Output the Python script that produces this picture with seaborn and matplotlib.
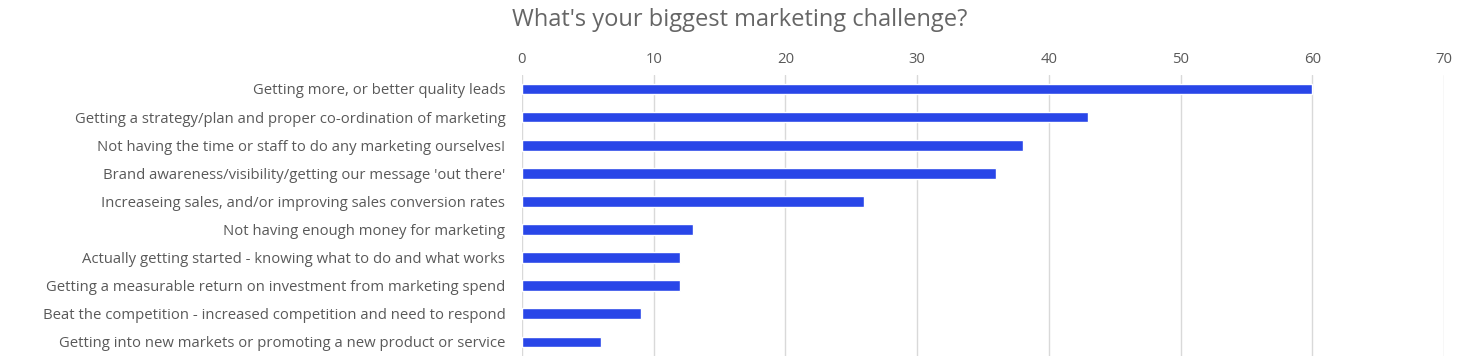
import matplotlib
matplotlib.use("Agg")
import matplotlib.pyplot as plt
import seaborn as sns
import pandas as pd

challenges = [
    "Getting more, or better quality leads",
    "Getting a strategy/plan and proper co-ordination of marketing",
    "Not having the time or staff to do any marketing ourselves!",
    "Brand awareness/visibility/getting our message 'out there'",
    "Increaseing sales, and/or improving sales conversion rates",
    "Not having enough money for marketing",
    "Actually getting started - knowing what to do and what works",
    "Getting a measurable return on investment from marketing spend",
    "Beat the competition - increased competition and need to respond",
    "Getting into new markets or promoting a new product or service",
]
responses = [60, 43, 38, 36, 26, 13, 12, 12, 9, 6]
x_ticks = [0, 10, 20, 30, 40, 50, 60, 70]

df = pd.DataFrame({"challenge": challenges, "responses": responses})

sns.set_style("white")
plt.rcParams["font.family"] = ["Open Sans", "DejaVu Sans"]

fig = plt.figure(figsize=(14.8, 3.62), dpi=100)
ax = fig.add_axes([0.3527, 0.0166, 0.623, 0.7764])

# horizontal bars, top axis like the spreadsheet export
sns.barplot(data=df, x="responses", y="challenge", color="#2946E8",
            width=0.38, saturation=1, ax=ax)

ax.set_xlim(0, 70)
ax.set_xticks(x_ticks)
ax.xaxis.tick_top()
ax.xaxis.set_label_position("top")
ax.set_xlabel("")
ax.set_ylabel("")
ax.grid(axis="x", color="#d9d9d9", linewidth=1)
ax.set_axisbelow(True)
for s in ax.spines.values():
    s.set_visible(False)
ax.tick_params(axis="both", length=0, colors="#595959", labelsize=10.7)
ax.tick_params(axis="x", pad=6)
ax.tick_params(axis="y", pad=12)

fig.text(0.5, 0.945, "What's your biggest marketing challenge?", ha="center",
         va="center", fontsize=17, color="#666666")

fig.savefig("out.png", dpi=100)
